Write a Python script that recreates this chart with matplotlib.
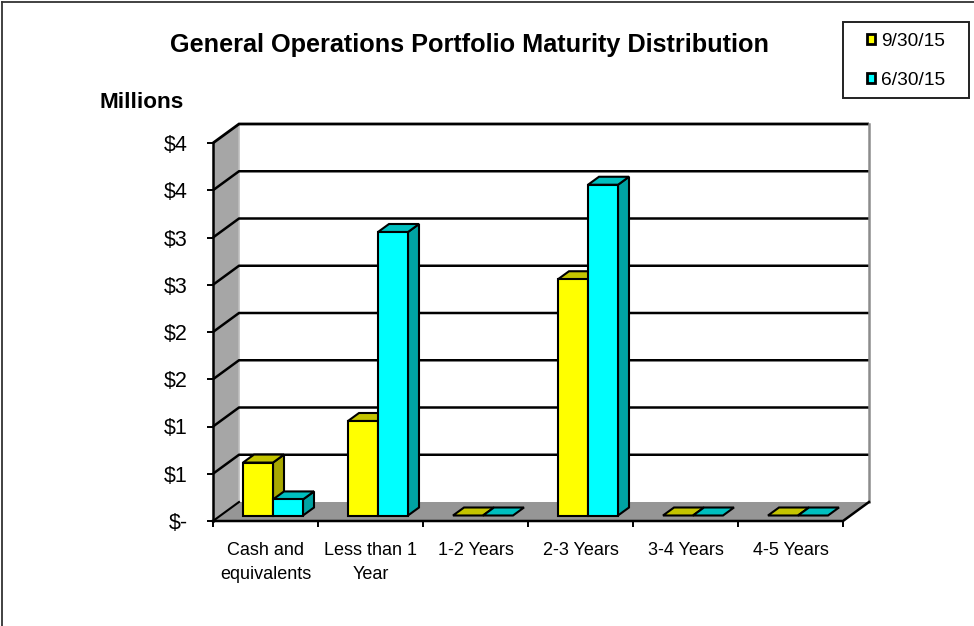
import matplotlib
matplotlib.use("Agg")
import matplotlib.pyplot as plt
from matplotlib.patches import Polygon, Patch, Rectangle
from matplotlib.lines import Line2D

plt.rcParams['font.family'] = ['Liberation Sans', 'DejaVu Sans']

categories = ["Cash and\nequivalents", "Less than 1\nYear", "1-2 Years", "2-3 Years", "3-4 Years", "4-5 Years"]
series_a = [0.56, 1.0, 0, 2.5, 0, 0]
series_b = [0.17, 3.0, 0, 3.5, 0, 0]
label_a = "9/30/15"
label_b = "6/30/15"
y_ticks = [0, 0.5, 1, 1.5, 2, 2.5, 3, 3.5, 4]
y_labels = ["$-", "$1", "$1", "$2", "$2", "$3", "$3", "$4", "$4"]

W, H = 974, 626
fig = plt.figure(figsize=(W / 100, H / 100), dpi=100, facecolor='white')
ax = fig.add_axes([213 / W, (H - 521) / H, 630 / W, 378 / H])
ax.set_xlim(0, len(categories))
ax.set_ylim(0, 4)
ax.patch.set_visible(False)
for s in ax.spines.values():
    s.set_visible(False)

# pixel scale -> data units
PX = len(categories) / 630
PY = 4 / 378
DX, DY = 26 * PX, 19 * PY        # floor / wall depth
BDX, BDY = 11 * PX, 8 * PY       # bar depth
OFFX, OFFY = 7.5 * PX, 5.5 * PY  # bar offset into the floor
BW = 30 * PX
GAP = 22.5 * PX
n = len(categories)
ymax = y_ticks[-1]


def poly(pts, fc, ec='black', lw=1.5, z=3):
    ax.add_patch(Polygon(pts, closed=True, facecolor=fc, edgecolor=ec, linewidth=lw,
                         joinstyle='miter', clip_on=False, zorder=z))


# walls and floor
poly([(0, 0), (DX, DY), (DX, ymax + DY), (0, ymax)], '#A6A6A6', ec='none', z=1)
poly([(0, 0), (n, 0), (n + DX, DY), (DX, DY)], '#969696', ec='none', z=1)
for y in y_ticks[1:]:
    lw = 2.0 if y == ymax else 1.8
    ax.plot([0, DX, n + DX], [y, y + DY, y + DY], color='black', lw=lw, clip_on=False,
            zorder=2, solid_joinstyle='miter', solid_capstyle='butt')
ax.plot([n + DX, n + DX], [DY, ymax + DY], color='#8C8C8C', lw=1.8, clip_on=False, zorder=2)
ax.plot([DX, DX], [DY, ymax + DY], color='#BDBDBD', lw=1.2, clip_on=False, zorder=1.5)
ax.plot([0, 0], [0, ymax], color='black', lw=1.8, clip_on=False, zorder=2.5)
ax.plot([0, DX], [0, DY], color='black', lw=1.5, clip_on=False, zorder=2.5)
ax.plot([0, n, n + DX], [0, 0, DY], color='black', lw=1.8, clip_on=False, zorder=2.5,
        solid_joinstyle='miter')


def bar3d(x0, v, front, top, side, z):
    x1 = x0 + BW
    y0 = OFFY
    y1 = OFFY + v
    if v > 0:
        poly([(x1, y0), (x1 + BDX, y0 + BDY), (x1 + BDX, y1 + BDY), (x1, y1)], side, z=z)
        poly([(x0, y1), (x1, y1), (x1 + BDX, y1 + BDY), (x0 + BDX, y1 + BDY)], top, z=z)
        ax.bar(x0, v, width=BW, bottom=y0, align='edge', color=front,
               edgecolor='black', linewidth=1.5, clip_on=False, zorder=z)
    else:
        poly([(x0, y1), (x1, y1), (x1 + BDX, y1 + BDY), (x0 + BDX, y1 + BDY)], top, z=z)


for i in range(n):
    xa = i + GAP + OFFX
    bar3d(xa, series_a[i], '#FFFF00', '#C4C400', '#A8A800', 3 + i * 0.1)
    bar3d(xa + BW, series_b[i], '#00FFFF', '#00BFBF', '#00A3A3', 3.05 + i * 0.1)

# axes
ax.set_xticks(range(n + 1))
ax.set_xticklabels([])
ax.set_xticks([i + 0.5 for i in range(n)], categories, minor=True)
ax.tick_params(axis='x', which='major', length=4.5, width=1.4, color='black')
ax.tick_params(axis='x', which='minor', length=0, pad=15, labelsize=13)
for t in ax.get_xticklabels(minor=True):
    t.set_linespacing(1.55)
ax.set_yticks(y_ticks, y_labels)
ax.tick_params(axis='y', length=4.5, width=1.4, color='black', labelsize=15.5, pad=13.5)

# texts
fig.text(469.5 / W, 1 - 45 / H, "General Operations Portfolio Maturity Distribution",
         ha='center', va='center', fontsize=18.15, fontweight='bold')
fig.text(142 / W, 1 - 103 / H, "Millions", ha='center', va='center', fontsize=16.2, fontweight='bold')

# legend: frame drawn separately so its box can be wider than its content
fig.add_artist(Rectangle((843 / W, 1 - 98 / H), 126 / W, 76 / H, transform=fig.transFigure,
                         facecolor='white', edgecolor='#222222', linewidth=1.4, zorder=1))
handles = [Patch(facecolor='#FFFF00', edgecolor='black', linewidth=2.0, label=label_a),
           Patch(facecolor='#00FFFF', edgecolor='black', linewidth=2.0, label=label_b)]
leg = fig.legend(handles=handles, loc='upper left', bbox_to_anchor=(856 / W, 1 - 22 / H),
                 bbox_transform=fig.transFigure, fontsize=13.8, frameon=False,
                 handlelength=0.45, handleheight=0.45, handletextpad=0.3,
                 labelspacing=1.16, borderpad=0.55, borderaxespad=0)
leg.set_zorder(2)

# outer chart frame
for xs, ys in [((1.5 / W, 1.5 / W), (0, 1 - 1.5 / H)), ((1.5 / W, 1), (1 - 1.5 / H, 1 - 1.5 / H))]:
    fig.add_artist(Line2D(xs, ys, color='#333333', lw=1.3, transform=fig.transFigure))

fig.savefig("out.png", dpi=100)
